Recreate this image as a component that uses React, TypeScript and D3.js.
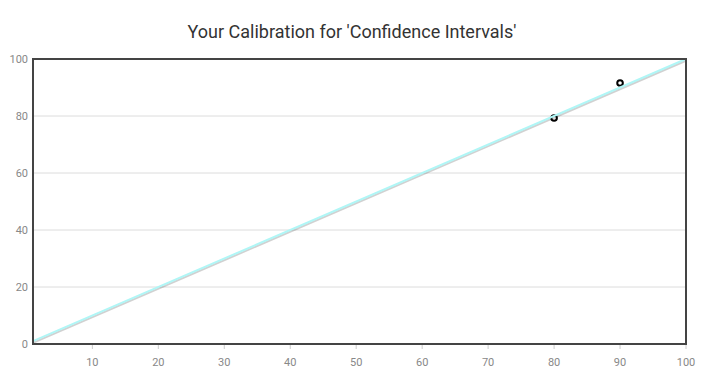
import React from "react";
import * as d3 from "d3";

const xTicks = [10, 20, 30, 40, 50, 60, 70, 80, 90, 100];
const yTicks = [0, 20, 40, 60, 80, 100];
const idealX = [1, 100];
const idealY = [1, 100];
const pointX = [80, 90];
const pointY = [79.3, 91.6];

export default function App() {
  const W = 706, H = 383;
  const left = 33, right = 686, top = 59, bottom = 344;
  const x = d3.scaleLinear().domain([1, 100]).range([left, right]);
  const y = d3.scaleLinear().domain([0, 100]).range([bottom, top]);
  const line = d3.line<number>().x((_, i) => x(idealX[i])).y((_, i) => y(idealY[i]));
  const pathD = line(idealX) || "";
  return (
    <svg width={W} height={H} style={{ position: "absolute", left: 0, top: 0, fontFamily: "Roboto, sans-serif" }}>
      <rect width={W} height={H} fill="#fff" />
      <text x={352} y={38} textAnchor="middle" fontSize={18} fill="#333">Your Calibration for 'Confidence Intervals'</text>
      {yTicks.filter(t => t > 0 && t < 100).map(t => (
        <line key={t} x1={left} x2={right} y1={y(t)} y2={y(t)} stroke="#dcdcdc" strokeWidth={1} />
      ))}
      {yTicks.map(t => (
        <text key={t} x={28} y={y(t)} dy="0.35em" textAnchor="end" fontSize={11} fill="#888">{t}</text>
      ))}
      {xTicks.map(t => (
        <g key={t}>
          <line x1={x(t)} x2={x(t)} y1={bottom} y2={bottom + 5} stroke="#ccc" />
          <text x={x(t)} y={362} dy="0.35em" textAnchor="middle" fontSize={11} fill="#888">{t}</text>
        </g>
      ))}
      {pointX.map((px, i) => (
        <circle key={i} cx={x(px)} cy={y(pointY[i])} r={2.8} fill="#fff" stroke="#000" strokeWidth={2} />
      ))}
      <path d={pathD} transform="translate(0.5,1.5)" stroke="#000" strokeOpacity={0.18} strokeWidth={2} fill="none" />
      <path d={pathD} stroke="#b0f6f6" strokeWidth={2} fill="none" />
      <rect x={left} y={top} width={right - left} height={bottom - top} fill="none" stroke="#444" strokeWidth={2} />
    </svg>
  );
}
